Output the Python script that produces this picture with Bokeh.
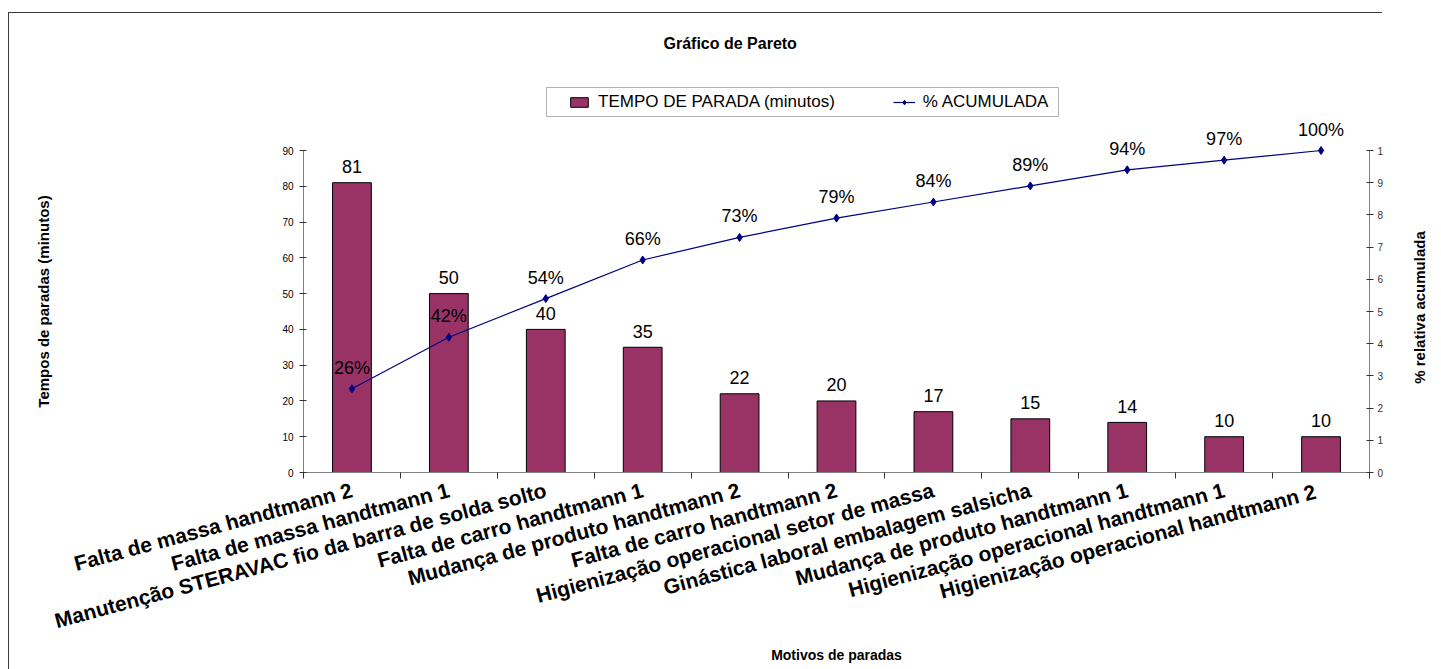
import math

from bokeh.core.properties import value
from bokeh.embed import file_html
from bokeh.models import (BoxAnnotation, ColumnDataSource, FixedTicker, Label,
                          Legend, LegendItem, LinearAxis, Range1d)
from bokeh.plotting import figure
from bokeh.resources import INLINE

# ---- data -------------------------------------------------------------
motivos = [
    "Falta de massa handtmann 2",
    "Falta de massa handtmann 1",
    "Manutenção STERAVAC fio da barra de solda solto",
    "Falta de carro handtmann 1",
    "Mudança de produto handtmann 2",
    "Falta de carro handtmann 2",
    "Higienização operacional setor de massa",
    "Ginástica laboral embalagem salsicha",
    "Mudança de produto handtmann 1",
    "Higienização operacional handtmann 1",
    "Higienização operacional  handtmann 2",
]
tempo_parada = [81, 50, 40, 35, 22, 20, 17, 15, 14, 10, 10]          # minutos
pct_acumulada = [26, 42, 54, 66, 73, 79, 84, 89, 94, 97, 100]        # %

left_ticks = [0, 10, 20, 30, 40, 50, 60, 70, 80, 90]
right_ticks = [0, 10, 20, 30, 40, 50, 60, 70, 80, 90, 100]
right_tick_labels = ["0", "1", "2", "3", "4", "5", "6", "7", "8", "9", "1"]

FONT = "Liberation Sans"
BAR_COLOR = "#993366"
LINE_COLOR = "#000080"

# Layout geometry (pixels): frame spans the legend area too, axes are bounded
FRAME_TOP, FRAME_BOTTOM, AXIS_TOP = 62, 472, 150
HEADROOM = (FRAME_BOTTOM - FRAME_TOP) / (FRAME_BOTTOM - AXIS_TOP)
Y_MAX, PCT_MAX = 90, 100

pos = list(range(1, len(motivos) + 1))
src = ColumnDataSource(dict(
    x=pos,
    tempo=tempo_parada,
    tempo_txt=[str(v) for v in tempo_parada],
    pct=pct_acumulada,
    pct_txt=[f"{v}%" for v in pct_acumulada],
))

# ---- figure -----------------------------------------------------------
p = figure(
    width=1441, height=669,
    output_backend="svg", toolbar_location=None,
    x_range=Range1d(0.5, len(motivos) + 0.5),
    y_range=Range1d(0, Y_MAX * HEADROOM),
    min_border_left=303, min_border_right=72,
    min_border_top=FRAME_TOP, min_border_bottom=669 - FRAME_BOTTOM,
)
p.outline_line_color = None
p.grid.visible = False
p.background_fill_color = "white"
p.border_fill_color = "white"

p.extra_y_ranges = {"pct": Range1d(0, PCT_MAX * HEADROOM)}

# chart-area border (top and left edges of the outer box)
p.stylesheets = [
    ":host::before { content: ''; position: absolute; left: 8px; top: 12px;"
    " width: 1373px; height: 657px; border-top: 1.5px solid #3a3a3a;"
    " border-left: 1.5px solid #3a3a3a; pointer-events: none; z-index: 5; }"
]

# title
p.title.text = "Gráfico de Pareto"
p.title.align = "left"
p.title.offset = 360
p.title.standoff = 22
p.title.text_font = FONT
p.title.text_font_size = "16px"
p.title.text_font_style = "bold"
p.title.text_color = "black"

# bars
bars = p.vbar(x="x", top="tempo", width=0.4, source=src,
              fill_color=BAR_COLOR, line_color="black", line_width=1)

# cumulative line
line_r = p.line(x="x", y="pct", source=src, y_range_name="pct",
                line_color=LINE_COLOR, line_width=1.2)
pts_r = p.scatter(x="x", y="pct", source=src, y_range_name="pct",
                  marker="diamond", size=8,
                  fill_color=LINE_COLOR, line_color=LINE_COLOR)

# value labels
p.text(x="x", y="tempo", text="tempo_txt", source=src,
       text_align="center", text_baseline="middle", y_offset=-16,
       text_font=value(FONT), text_font_size="18px", text_color="black")
p.text(x="x", y="pct", text="pct_txt", source=src, y_range_name="pct",
       text_align="center", text_baseline="middle", y_offset=-21,
       text_font=value(FONT), text_font_size="18px", text_color="black")

# ---- axes -------------------------------------------------------------
xa = p.xaxis[0]
xa.ticker = FixedTicker(ticks=pos, minor_ticks=[i + 0.5 for i in range(len(motivos) + 1)])
xa.major_label_overrides = {i + 1: m for i, m in enumerate(motivos)}
xa.major_tick_in = 0
xa.major_tick_out = 0
xa.minor_tick_in = 0
xa.minor_tick_out = 6
xa.minor_tick_line_color = "#333333"
xa.axis_line_color = "#808080"
xa.major_label_orientation = math.radians(15)
xa.major_label_standoff = 11
xa.major_label_text_font = FONT
xa.major_label_text_font_size = "21px"
xa.major_label_text_font_style = "bold"
xa.major_label_text_color = "black"
xa.axis_label = "Motivos de paradas"
xa.axis_label_text_font = FONT
xa.axis_label_text_font_size = "14px"
xa.axis_label_text_font_style = "bold"
xa.axis_label_text_color = "black"
xa.axis_label_standoff = 1

ya = p.yaxis[0]
ya.ticker = FixedTicker(ticks=left_ticks, minor_ticks=[])
ya.bounds = (0, Y_MAX)
ya.major_tick_in = 3
ya.major_tick_out = 4
ya.major_tick_line_color = "#333333"
ya.axis_line_color = "#808080"
ya.major_label_standoff = 6
ya.major_label_text_font = FONT
ya.major_label_text_font_size = "10px"
ya.major_label_text_color = "black"

ra = LinearAxis(y_range_name="pct",
                ticker=FixedTicker(ticks=right_ticks, minor_ticks=[]),
                major_label_overrides={t: s for t, s in zip(right_ticks, right_tick_labels)})
ra.bounds = (0, PCT_MAX)
ra.major_tick_in = 3
ra.major_tick_out = 4
ra.major_tick_line_color = "#333333"
ra.axis_line_color = "#808080"
ra.major_label_standoff = 4
ra.major_label_text_font = FONT
ra.major_label_text_font_size = "10px"
ra.major_label_text_color = "#333333"
p.add_layout(ra, "right")

# vertical axis titles, read bottom-to-top
axis_title_style = dict(x_units="canvas", y_units="canvas", angle=math.pi / 2,
                        text_align="center", text_baseline="middle",
                        text_font=FONT, text_font_size="15px",
                        text_font_style="bold", text_color="black")
p.add_layout(Label(x=43, y=301, text="Tempos de paradas (minutos)",
                   **axis_title_style), "left")
p.add_layout(Label(x=1419, y=307, text="% relativa acumulada",
                   **axis_title_style), "right")

# ---- legend -----------------------------------------------------------
legend = Legend(
    items=[LegendItem(label="TEMPO DE PARADA (minutos)", renderers=[bars]),
           LegendItem(label="% ACUMULADA", renderers=[line_r, pts_r])],
    orientation="horizontal", location=(265, 360),
    padding=0, margin=0, spacing=58,
    glyph_width=22, glyph_height=12, label_standoff=8,
    border_line_color=None, background_fill_alpha=0,
    label_text_font=FONT, label_text_font_size="17px", label_text_color="black",
)
p.add_layout(legend)

# legend frame
p.add_layout(BoxAnnotation(left=546, right=1058, top=87, bottom=116,
                           left_units="canvas", right_units="canvas",
                           top_units="canvas", bottom_units="canvas",
                           fill_color=None, line_color="black", line_width=1))

open("out.html", "w").write(file_html(p, INLINE))
